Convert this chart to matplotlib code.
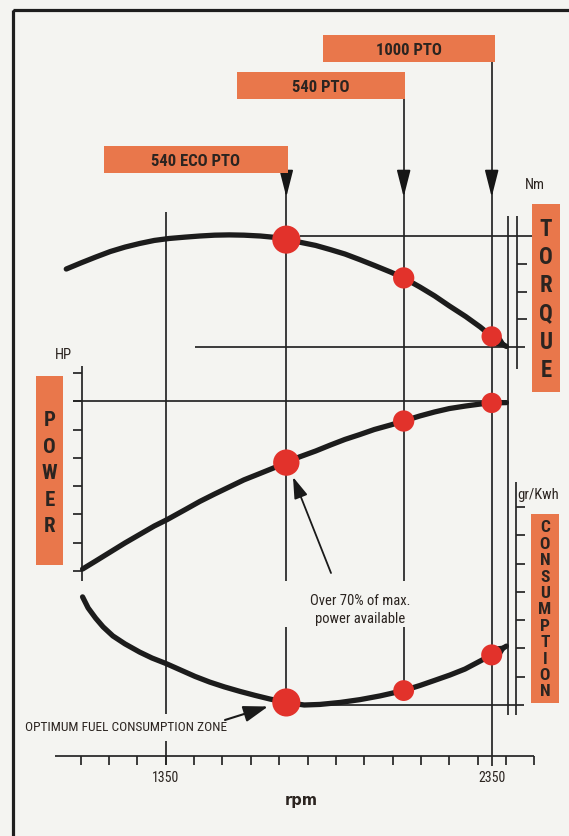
import os

import matplotlib
matplotlib.use("Agg")
import matplotlib.pyplot as plt
from matplotlib import font_manager
from matplotlib.font_manager import FontProperties
from matplotlib.patches import Rectangle

# PTO working points (engine rpm)
pto_names = ["540 ECO PTO", "540 PTO", "1000 PTO"]
pto_rpm = [1720, 2080, 2350]

# curves, values in divisions of each (unlabelled) scale
torque_rpm = [1045, 1090, 1135, 1180, 1225, 1270, 1315, 1360, 1410, 1455, 1500, 1545, 1590, 1640,
              1685, 1720, 1760, 1810, 1855, 1900, 1945, 1990, 2040, 2080, 2130, 2175, 2220, 2270,
              2315, 2350, 2375, 2395]
torque = [2.81, 3.03, 3.24, 3.44, 3.60, 3.73, 3.84, 3.91, 3.96, 4.00, 4.03, 4.04, 4.03, 4.00,
          3.95, 3.87, 3.78, 3.66, 3.51, 3.35, 3.15, 2.94, 2.70, 2.49, 2.16, 1.84, 1.48, 1.10,
          0.72, 0.38, 0.16, 0.02]

power_rpm = [1095, 1135, 1180, 1225, 1270, 1315, 1355, 1410, 1455, 1500, 1545, 1590, 1640, 1685,
             1720, 1760, 1810, 1855, 1900, 1945, 1990, 2040, 2080, 2130, 2175, 2220, 2270, 2315,
             2350, 2395]
power = [0.07, 0.35, 0.67, 0.99, 1.29, 1.59, 1.82, 2.17, 2.46, 2.72, 2.97, 3.22, 3.45, 3.66,
         3.83, 4.03, 4.24, 4.45, 4.65, 4.82, 5.00, 5.16, 5.30, 5.48, 5.62, 5.74, 5.83, 5.90,
         5.94, 5.95]

cons_rpm = [1095, 1112, 1135, 1158, 1188, 1225, 1270, 1308, 1350, 1395, 1440, 1485, 1530, 1578,
            1624, 1670, 1720, 1775, 1823, 1885, 1946, 2007, 2080, 2130, 2175, 2222, 2268, 2314,
            2350, 2375, 2395]
consumption = [3.82, 3.43, 3.07, 2.76, 2.44, 2.16, 1.87, 1.66, 1.47, 1.24, 1.01, 0.81, 0.64, 0.48,
               0.34, 0.21, 0.09, 0.0, 0.02, 0.09, 0.19, 0.32, 0.51, 0.69, 0.87, 1.06, 1.27, 1.55,
               1.77, 1.94, 2.08]

torque_at_pto = [3.87, 2.49, 0.38]
power_at_pto = [3.83, 5.30, 5.94]
cons_at_pto = [0.09, 0.51, 1.77]

rpm_ticks = [1090, 1177, 1263, 1350, 1437, 1524, 1612, 1698, 1786, 1873,
             1959, 2048, 2133, 2220, 2307, 2394, 2481]
rpm_labels = [1350, 2350]

W, H = 569, 837
PX_PER_RPM = 0.326
ORANGE = "#e9774b"
RED = "#e2322b"
INK = "#242424"
TXT = "#2b2420"
BG = "#f4f4f1"


def rpm_x(px):
    # horizontal pixel -> rpm, for layout only
    return 1350 + (px - 165.7) / PX_PER_RPM


def narrow_font(bold):
    # look for a condensed sans face among the installed fonts
    entries = font_manager.fontManager.ttflist
    for family in ["Roboto Condensed", "Liberation Sans Narrow", "Open Sans Condensed",
                   "Noto Sans Condensed"]:
        for f in entries:
            base = os.path.basename(f.fname)
            if f.name != family or "Italic" in base or "Oblique" in base:
                continue
            is_bold = "Bold" in base and "SemiBold" not in base and "ExtraBold" not in base
            plain = not any(k in base for k in ["Bold", "Light", "Thin", "Medium", "Black", "Semi"])
            if (bold and is_bold) or (not bold and plain):
                return f.fname
    for f in entries:
        base = os.path.basename(f.fname)
        if "Sans" in base and ("Condensed" in base or "Narrow" in base) \
                and "Italic" not in base and "Oblique" not in base:
            if bold == ("Bold" in base):
                return f.fname
    return None


reg_file = narrow_font(False)
bold_file = narrow_font(True)
shrink = 1.0 if reg_file and bold_file else 0.85


def font(size, bold=False):
    path = bold_file if bold else reg_file
    if path:
        return FontProperties(fname=path, size=size)
    return FontProperties(family="Liberation Sans", size=size * shrink,
                          weight="bold" if bold else "normal")


fig = plt.figure(figsize=(W / 100, H / 100), dpi=100)
fig.patch.set_facecolor(BG)

ax = fig.add_axes([0, 0, 1, 1])
ax.set_xlim(rpm_x(0), rpm_x(W))
ax.set_ylim(H, 0)
ax.axis("off")


def scale_axes(zero_px, div_px):
    t = ax.twinx()
    t.set_ylim((zero_px - H) / div_px, zero_px / div_px)
    t.axis("off")
    return t


ax_t = scale_axes(348, 27.75)
ax_p = scale_axes(572, 28.3)
ax_c = scale_axes(706, 28.3)

lw_thin = 1.25

# vertical guide lines
ax.vlines(1350, 213, 715, color=INK, lw=lw_thin)
ax.vlines(1350, 742, 766, color=INK, lw=lw_thin)
box_tops = [147, 73, 36]
box_bottoms = [174, 100, 63]
ax.vlines(pto_rpm[0], box_bottoms[0], 582, color=INK, lw=lw_thin)
ax.vlines(pto_rpm[0], 628, 700, color=INK, lw=lw_thin)
ax.vlines(pto_rpm[1], box_bottoms[1], 582, color=INK, lw=lw_thin)
ax.vlines(pto_rpm[1], 628, 690, color=INK, lw=lw_thin)
ax.vlines(pto_rpm[2], box_bottoms[2], 767, color=INK, lw=lw_thin)
ax.vlines(rpm_x(507.7), 217, 716, color=INK, lw=lw_thin)

for r in pto_rpm:
    ax.annotate("", xy=(r, 198), xytext=(r, 174),
                arrowprops=dict(arrowstyle="-|>,head_length=1.65,head_width=0.42",
                                color="#161616", lw=lw_thin, shrinkA=0, shrinkB=0,
                                mutation_scale=10))

# bottom rpm axis
ax.hlines(757.3, rpm_x(55), rpm_x(534.3), color=INK, lw=lw_thin)
ax.vlines(rpm_ticks, 757.3, 766, color=INK, lw=lw_thin)
for r in rpm_labels:
    ax.text(r, 778, str(r), ha="center", va="center", fontproperties=font(10),
            color=TXT)
ax.text(rpm_x(301.7), 801, "rpm", ha="center", va="center", fontsize=10.5,
        fontweight="bold", color=TXT, family="DejaVu Sans")

# torque scale
xt0, xt1 = rpm_x(516.7), rpm_x(527)
ax_t.vlines(xt0, (348 - 217) / 27.75, (348 - 370) / 27.75, color=INK, lw=lw_thin)
ax_t.hlines([1, 2, 3], xt0, xt1, color=INK, lw=lw_thin)
ax_t.hlines(4, rpm_x(300), rpm_x(533), color=INK, lw=lw_thin)
ax_t.hlines(0, rpm_x(195), rpm_x(525), color=INK, lw=lw_thin)

# power scale
xp0, xp1 = rpm_x(73), rpm_x(81.7)
ax_p.vlines(xp1, -0.35, 7.24, color=INK, lw=lw_thin)
ax_p.hlines(range(8), xp0, xp1, color=INK, lw=lw_thin)
ax_p.hlines(6, xp0, rpm_x(503), color=INK, lw=lw_thin)

# consumption scale
xc0, xc1 = rpm_x(515.7), rpm_x(525)
ax_c.vlines(xc0, (706 - 483) / 28.3, (706 - 716) / 28.3, color=INK, lw=lw_thin)
ax_c.hlines(range(1, 8), xc0, xc1, color=INK, lw=lw_thin)
ax_c.hlines(min(consumption), rpm_x(303), rpm_x(524), color=INK, lw=lw_thin)

# curves
curve_kw = dict(color="#1c1c1c", lw=3.8, solid_capstyle="round", solid_joinstyle="round")
ax_t.plot(torque_rpm, torque, **curve_kw)
ax_p.plot(power_rpm, power, **curve_kw)
ax_c.plot(cons_rpm, consumption, **curve_kw)
for a, xs, ys in [(ax_t, torque_rpm, torque), (ax_c, cons_rpm, consumption)]:
    a.annotate("", xy=(xs[-1] + 4, ys[-1] + (ys[-1] - ys[-2]) * 0.25), xytext=(xs[-2], ys[-2]),
               arrowprops=dict(arrowstyle="-|>,head_length=0.8,head_width=0.4",
                               color="#1c1c1c", lw=0, shrinkA=0, shrinkB=0))

ax_t.scatter(pto_rpm, torque_at_pto, s=[410, 235, 215], color=RED, zorder=5, linewidths=0)
ax_p.scatter(pto_rpm, power_at_pto, s=[360, 235, 215], color=RED, zorder=5, linewidths=0)
ax_c.scatter(pto_rpm, cons_at_pto, s=[410, 225, 230], color=RED, zorder=5, linewidths=0)

# layout overlay in pixels
lay = fig.add_axes([0, 0, 1, 1], zorder=10)
lay.set_xlim(0, W)
lay.set_ylim(H, 0)
lay.patch.set_alpha(0)
lay.axis("off")

lay.add_patch(Rectangle((12.7, 11), 620, 829, fill=False, lw=2.3, ec="#1e1e1e"))

box_lefts = [104, 236.7, 322.7]
box_rights = [287.7, 405, 495]
for name, x0, x1, y0, y1 in zip(pto_names, box_lefts, box_rights, box_tops, box_bottoms):
    lay.add_patch(Rectangle((x0, y0), x1 - x0, y1 - y0, color=ORANGE, lw=0))
    lay.text((x0 + x1) / 2, (y0 + y1) / 2 + 0.5, name, ha="center", va="center",
             fontproperties=font(12, bold=True), color=TXT)


def side_label(word, x0, x1, y0, y1, first, last, size):
    lay.add_patch(Rectangle((x0, y0), x1 - x0, y1 - y0, color=ORANGE, lw=0))
    step = (last - first) / (len(word) - 1)
    for i, ch in enumerate(word):
        lay.text((x0 + x1) / 2, first + i * step, ch, ha="center", va="center",
                 fontproperties=font(size, bold=True), color=TXT)


side_label("TORQUE", 532, 560, 205, 393, 229, 370.5, 16.5)
side_label("POWER", 36, 63, 377, 566, 420.7, 527, 15)
side_label("CONSUMPTION", 530.7, 559, 515, 704, 527.8, 692, 12.5)

lay.text(535, 185, "Nm", ha="center", va="center", fontproperties=font(10.5), color=TXT)
lay.text(63, 355, "HP", ha="center", va="center", fontproperties=font(10.5), color=TXT)
lay.text(538, 495, "gr/Kwh", ha="center", va="center", fontproperties=font(10.5), color=TXT)

lay.text(360, 601, "Over 70% of max.", ha="center", va="center",
         fontproperties=font(10.5), color=TXT)
lay.text(360, 618.5, "power available", ha="center", va="center",
         fontproperties=font(10.5), color=TXT)
lay.annotate("", xy=(293, 478), xytext=(331, 574),
             arrowprops=dict(arrowstyle="-|>,head_length=1.3,head_width=0.42",
                             color="#1a1a1a", lw=1.3, shrinkA=0, shrinkB=0,
                             mutation_scale=10))

lay.text(25, 727.5, "OPTIMUM FUEL CONSUMPTION ZONE", ha="left", va="center",
         fontproperties=font(9.6), color=TXT)
lay.annotate("", xy=(268, 707.5), xytext=(225, 721),
             arrowprops=dict(arrowstyle="-|>,head_length=1.5,head_width=0.5",
                             color="#1a1a1a", lw=1.5, shrinkA=0, shrinkB=0,
                             mutation_scale=10))

fig.savefig("out.png", dpi=100, facecolor=BG)
